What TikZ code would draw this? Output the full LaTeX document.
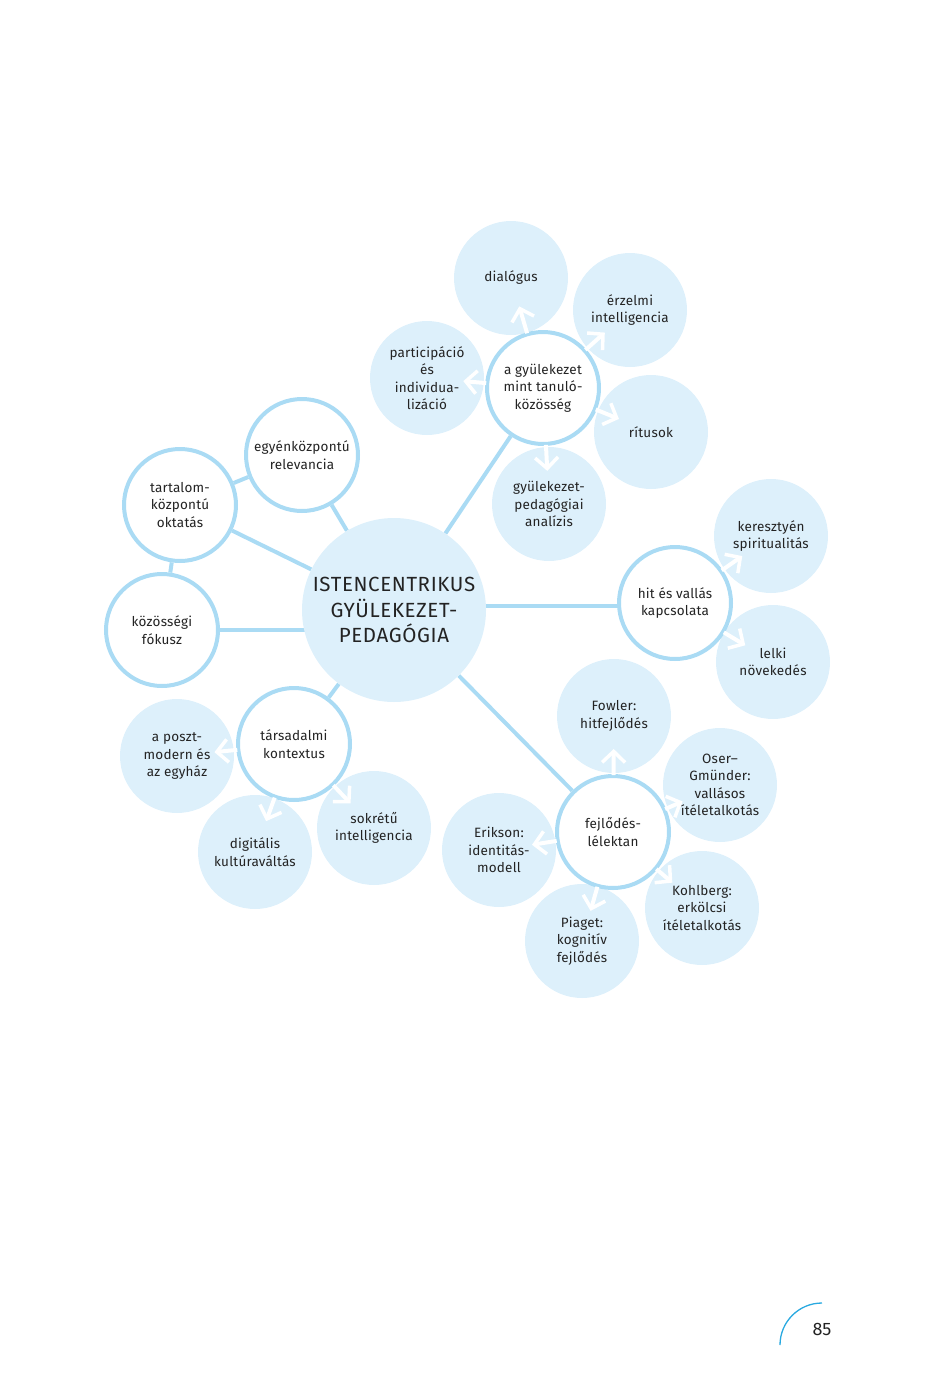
\documentclass[tikz,border=0pt]{standalone}
\usepackage{fontspec}
\setmainfont{Fira Sans}[LetterSpace=1.5]
\usetikzlibrary{arrows.meta,calc,backgrounds}
\definecolor{leaf}{RGB}{221,240,251}
\definecolor{edgec}{RGB}{170,219,244}
\definecolor{txt}{RGB}{35,35,35}
\definecolor{pagec}{RGB}{41,169,224}
\begin{document}
\begin{tikzpicture}[x=1pt,y=-1pt,
 leafnode/.style={circle,fill=leaf,minimum size=114pt,inner sep=0pt,align=center,font=\fontsize{13.5}{17.5}\selectfont,text=txt},
 hubnode/.style={circle,fill=white,draw=edgec,line width=4pt,minimum size=112pt,inner sep=0pt,align=center,font=\fontsize{13.5}{17.5}\selectfont,text=txt},
 mainnode/.style={circle,fill=leaf,minimum size=184pt,inner sep=0pt,align=center,font=\fontsize{20.5}{25.5}\selectfont\addfontfeatures{LetterSpace=3},text=txt},
 conn/.style={draw=edgec,line width=4pt},
 warrow/.style={draw=white,line width=4pt,-{Straight Barb[length=11pt,width=23pt,line width=3.5pt]}}
]
\useasboundingbox (0,0) rectangle (935,1389);
% leaves
\node[leafnode] (dia) at (511,278) {dialógus};
\node[leafnode] (erz) at (630,310) {érzelmi\\intelligencia};
\node[leafnode] (par) at (427,378) {participáció\\és\\individua-\\lizáció};
\node[leafnode] (rit) at (651,432) {rítusok};
\node[leafnode] (gyp) at (549,504) {gyülekezet-\\pedagógiai\\analízis};
\node[leafnode] (ker) at (771,536) {keresztyén\\spiritualitás};
\node[leafnode] (lel) at (773,662) {lelki\\növekedés};
\node[leafnode] (pos) at (177,756) {a poszt-\\modern és\\az egyház};
\node[leafnode] (dig) at (255,852) {digitális\\kultúraváltás};
\node[leafnode] (sok) at (374,828) {sokrétű\\intelligencia};
\node[leafnode] (fow) at (614,716) {Fowler:\\hitfejlődés};
\node[leafnode] (ose) at (720,785) {Oser–\\Gmünder:\\vallásos\\ítéletalkotás};
\node[leafnode] (eri) at (499,850) {Erikson:\\identitás-\\modell};
\node[leafnode] (pia) at (582,941) {Piaget:\\kognitív\\fejlődés};
\node[leafnode] (koh) at (702,908) {Kohlberg:\\erkölcsi\\ítéletalkotás};
% main
\node[mainnode] (main) at (394,610) {ISTENCENTRIKUS\\GYÜLEKEZET-\\PEDAGÓGIA};
% hubs
\node[hubnode] (gyu) at (543,388) {a gyülekezet\\mint tanuló-\\közösség};
\node[hubnode] (egy) at (302,455) {egyénközpontú\\relevancia};
\node[hubnode] (tar) at (180,505) {tartalom-\\központú\\oktatás};
\node[hubnode] (koz) at (162,630) {közösségi\\fókusz};
\node[hubnode] (tsd) at (294,744) {társadalmi\\kontextus};
\node[hubnode] (hit) at (675,603) {hit és vallás\\kapcsolata};
\node[hubnode] (fej) at (613,832) {fejlődés-\\lélektan};
% connectors
\begin{scope}[on background layer]
\draw[conn] (main) -- (gyu);
\draw[conn] ([yshift=-3pt]main.center |- hit.center) -- ([yshift=-3pt]hit.center);
\draw[conn] (main) -- (fej);
\draw[conn] (main) -- (tsd);
\draw[conn] (main) -- (egy);
\draw[conn] (main) -- (tar);
\draw[conn] (main.center |- koz.center) -- (koz);
\draw[conn] (tar) -- (egy);
\draw[conn] (tar) -- (koz);
\end{scope}
% arrows
\foreach \h/\l/\e in {gyu/dia/85,gyu/erz/83,gyu/par/80,gyu/rit/82,gyu/gyp/83,hit/ker/82,hit/lel/82,tsd/pos/80,tsd/dig/82,tsd/sok/82,fej/fow/83,fej/ose/76,fej/eri/82,fej/pia/82,fej/koh/78}{
  \draw[warrow] ($(\h.center)!57pt!(\l.center)$) -- ($(\h.center)!\e pt!(\l.center)$);
}
% page number
\draw[pagec,line width=1.3pt] (780,1345) arc[start angle=180,end angle=270,radius=42];
\node[text=txt,font=\fontsize{18}{20}\selectfont\addfontfeatures{LetterSpace=0}] (pg) at (822,1329) {85};
\end{tikzpicture}
\end{document}
